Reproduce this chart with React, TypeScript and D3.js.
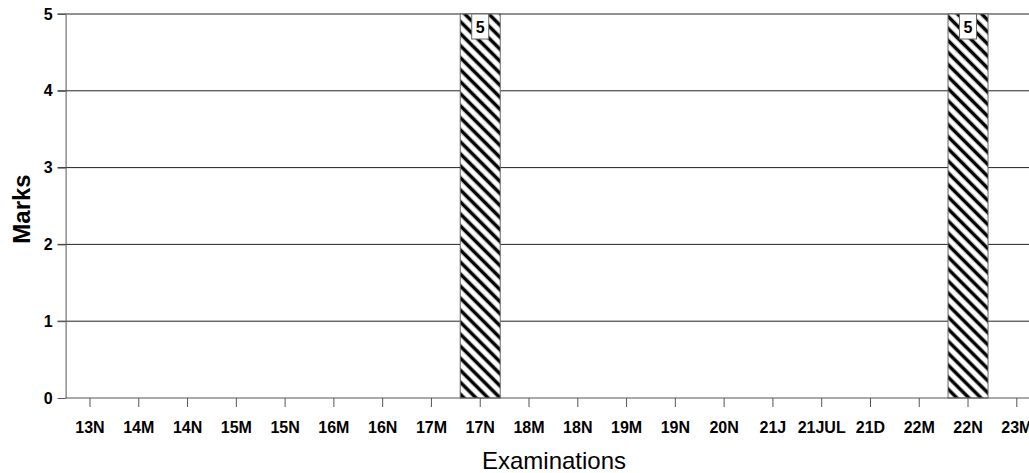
import { useEffect, useRef } from 'react';
import * as d3 from 'd3';

const exams = ['13N', '14M', '14N', '15M', '15N', '16M', '16N', '17M', '17N', '18M', '18N', '19M', '19N', '20N', '21J', '21JUL', '21D', '22M', '22N', '23M'];
const marks = [0, 0, 0, 0, 0, 0, 0, 0, 5, 0, 0, 0, 0, 0, 0, 0, 0, 0, 5, 0];
const yTicks = [0, 1, 2, 3, 4, 5];

const W = 1029;
const H = 473;
const FONT = 'Liberation Sans, Arial, sans-serif';

export default function App() {
  const svgRef = useRef<SVGSVGElement>(null);

  useEffect(() => {
    if (!svgRef.current) return;
    const svg = d3.select(svgRef.current);
    svg.selectAll('*').remove();

    const left = 65.6;
    const top = 14;
    const bottom = 398;
    const step = 48.78;

    const x = d3.scaleBand<string>()
      .domain(exams)
      .range([left, left + step * exams.length])
      .paddingInner(0.18)
      .paddingOuter(0.09);

    const y = d3.scaleLinear().domain([0, 5]).range([bottom, top]);

    // hatch pattern (lines running top-left to bottom-right)
    const defs = svg.append('defs');
    const pat = defs.append('pattern')
      .attr('id', 'hatch')
      .attr('patternUnits', 'userSpaceOnUse')
      .attr('width', 8.5)
      .attr('height', 8.5)
      .attr('patternTransform', 'rotate(45)');
    pat.append('rect').attr('width', 8.5).attr('height', 8.5).attr('fill', '#fff');
    pat.append('line')
      .attr('x1', 0).attr('y1', 4.25).attr('x2', 8.5).attr('y2', 4.25)
      .attr('stroke', '#000').attr('stroke-width', 3.5);

    // gridlines
    svg.append('g')
      .selectAll('line')
      .data(yTicks.filter(d => d > 0))
      .enter()
      .append('line')
      .attr('x1', left - 8)
      .attr('x2', W)
      .attr('y1', d => y(d))
      .attr('y2', d => y(d))
      .attr('stroke', '#222')
      .attr('stroke-width', 1);

    // bars
    const bars = marks.map((v, i) => ({ cat: exams[i], v })).filter(d => d.v > 0);
    svg.append('g')
      .selectAll('rect')
      .data(bars)
      .enter()
      .append('rect')
      .attr('x', d => x(d.cat)!)
      .attr('y', d => y(d.v))
      .attr('width', x.bandwidth())
      .attr('height', d => bottom - y(d.v))
      .attr('fill', 'url(#hatch)')
      .attr('stroke', '#666')
      .attr('stroke-width', 1);

    // value labels
    const lab = svg.append('g').selectAll('g').data(bars).enter().append('g');
    lab.append('rect')
      .attr('x', d => x(d.cat)! + x.bandwidth() / 2 - 8.5)
      .attr('y', d => y(d.v))
      .attr('width', 17)
      .attr('height', 25)
      .attr('fill', '#fff')
      .attr('stroke', '#666')
      .attr('stroke-width', 1);
    lab.append('text')
      .attr('x', d => x(d.cat)! + x.bandwidth() / 2)
      .attr('y', d => y(d.v) + 19)
      .attr('text-anchor', 'middle')
      .attr('font-family', FONT)
      .attr('font-weight', 'bold')
      .attr('font-size', 16)
      .text(d => d.v);

    // x axis
    const xAxis = svg.append('g').attr('transform', `translate(0,${bottom})`)
      .call(d3.axisBottom(x).tickSize(9).tickSizeOuter(0));
    xAxis.select('.domain').attr('stroke', '#555').attr('d', `M${left},0H${W}`);
    xAxis.selectAll('.tick line').attr('stroke', '#555');
    xAxis.selectAll('.tick text')
      .attr('fill', '#000')
      .attr('dy', '0')
      .attr('y', 35)
      .attr('font-family', FONT)
      .attr('font-weight', 'bold')
      .attr('font-size', 16);

    // y axis
    const yAxis = svg.append('g').attr('transform', `translate(${left},0)`)
      .call(d3.axisLeft(y).tickValues(yTicks).tickFormat(d3.format('d')).tickSize(8).tickSizeOuter(0));
    yAxis.select('.domain').attr('stroke', '#555');
    yAxis.selectAll('.tick line').attr('stroke', '#555');
    yAxis.selectAll('.tick text')
      .attr('fill', '#000')
      .attr('x', -13)
      .attr('font-family', FONT)
      .attr('font-weight', 'bold')
      .attr('font-size', 16);

    // titles
    svg.append('text')
      .attr('transform', `translate(30,209) rotate(-90)`)
      .attr('text-anchor', 'middle')
      .attr('font-family', FONT)
      .attr('font-weight', 'bold')
      .attr('font-size', 24)
      .text('Marks');

    svg.append('text')
      .attr('x', 554)
      .attr('y', 469)
      .attr('text-anchor', 'middle')
      .attr('font-family', FONT)
      .attr('font-size', 24)
      .text('Examinations');
  }, []);

  return (
    <svg
      ref={svgRef}
      width={W}
      height={H}
      style={{ position: 'absolute', left: 0, top: 0, background: '#fff', overflow: 'hidden' }}
    />
  );
}
